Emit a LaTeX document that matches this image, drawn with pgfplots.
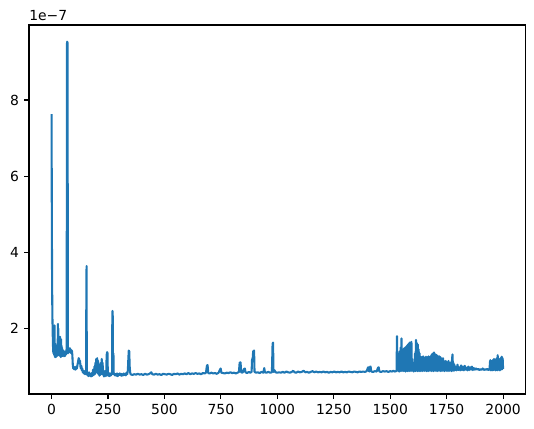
\documentclass[border=0pt]{standalone}
\usepackage{fontspec}
\setmainfont{DejaVu Sans}
\usepackage{pgfplots}
\pgfplotsset{compat=1.18}
\definecolor{mplblue}{RGB}{31,119,180}

% values in units of 1e-7
\pgfplotstableread{
x y
0 7.63
1 5.2
2 3.6
3 2.7
4 2.2
5 1.9
6 1.6
7 1.45
8 1.35
9 1.5
10 2.05
11 1.4
12 1.3
13 2.08
14 1.35
15 1.25
16 1.6
17 1.3
18 1.5
19 1.25
20 1.35
21 1.28
22 1.45
23 1.3
24 1.45
25 1.28
26 1.5
27 1.3
28 2.12
29 1.4
30 2.0
31 1.3
32 1.75
33 1.35
34 1.7
35 1.3
36 1.65
37 1.28
38 1.78
39 1.3
40 1.6
41 1.25
42 1.72
43 1.3
44 1.55
45 1.27
46 1.5
47 1.32
48 1.45
49 1.28
50 1.4
51 1.3
52 1.42
53 1.3
54 1.38
55 1.27
56 1.4
57 1.3
58 1.35
60 1.28
62 1.4
64 1.32
66 1.45
67 1.35
68 9.45
69 9.53
71 9.5
72 1.4
73 1.35
74 1.5
76 1.38
78 1.45
80 1.4
82 1.48
84 1.36
86 1.44
88 1.4
90 1.42
92 1.3
94 1.05
96 0.95
98 1.0
100 0.93
103 0.98
106 0.92
109 1.0
112 0.95
115 1.05
118 1.15
120 1.22
122 1.2
124 1.1
126 1.15
128 1.0
130 0.95
132 1.02
134 0.9
136 0.95
138 0.85
140 0.9
142 0.82
145 0.88
148 0.8
151 0.85
153 0.8
154 3.0
155 3.64
156 0.85
158 0.78
160 0.82
163 0.75
166 0.85
169 0.76
172 0.8
175 0.74
178 0.83
181 0.76
184 0.92
187 0.78
190 1.0
192 0.8
194 1.1
196 0.85
198 1.2
200 0.9
202 1.22
204 0.82
206 1.15
208 0.8
210 1.05
212 0.76
214 0.95
216 0.78
218 1.1
220 0.8
222 1.2
224 0.85
226 1.1
228 0.78
230 0.9
232 0.74
234 0.85
236 0.76
238 0.88
240 0.75
242 0.8
244 1.3
246 1.38
248 1.35
249 0.8
251 0.76
254 0.83
257 0.75
260 0.8
263 0.77
266 0.85
268 0.8
269 2.2
270 2.46
271 2.3
272 0.85
274 1.35
275 0.8
278 0.82
281 0.77
284 0.8
287 0.76
290 0.82
293 0.75
296 0.8
299 0.78
302 0.82
305 0.77
308 0.81
311 0.76
314 0.8
317 0.77
320 0.82
323 0.78
326 0.8
329 0.77
332 0.84
335 0.8
338 0.9
340 1.2
342 1.42
344 1.4
346 1.0
348 0.85
350 0.8
358 0.78
366 0.8
374 0.79
382 0.81
390 0.79
398 0.8
406 0.78
414 0.81
422 0.79
430 0.8
438 0.83
442 0.85
446 0.8
454 0.79
462 0.81
470 0.79
478 0.8
486 0.78
494 0.81
502 0.8
510 0.79
518 0.81
526 0.8
534 0.78
542 0.81
550 0.8
558 0.82
566 0.79
574 0.81
582 0.8
590 0.82
598 0.8
606 0.83
614 0.8
622 0.82
630 0.81
638 0.83
646 0.81
654 0.82
662 0.8
670 0.83
678 0.82
684 0.84
688 1.02
691 1.04
694 0.83
700 0.82
708 0.84
716 0.82
724 0.83
732 0.81
740 0.84
746 0.92
749 0.95
752 0.84
760 0.83
768 0.82
776 0.84
784 0.83
792 0.85
800 0.83
808 0.84
816 0.82
824 0.84
830 0.86
833 1.1
837 1.11
840 0.85
846 0.84
852 0.93
856 0.95
859 0.85
866 0.83
874 0.86
880 0.84
886 0.86
888 1.18
891 1.22
893 1.4
897 1.42
899 0.86
906 0.84
914 0.85
922 0.83
930 0.86
938 0.84
942 0.96
945 0.85
952 0.84
960 0.86
968 0.84
976 0.85
979 1.6
981 1.63
983 0.86
988 0.9
992 0.85
1000 0.84
1008 0.85
1016 0.84
1024 0.86
1032 0.84
1040 0.87
1048 0.85
1056 0.84
1064 0.86
1070 0.89
1076 0.85
1084 0.84
1092 0.87
1100 0.85
1108 0.86
1116 0.89
1124 0.85
1132 0.86
1140 0.84
1148 0.86
1156 0.88
1164 0.85
1172 0.87
1180 0.85
1188 0.86
1196 0.85
1204 0.87
1212 0.85
1220 0.86
1228 0.84
1236 0.86
1244 0.85
1252 0.87
1260 0.85
1268 0.86
1276 0.85
1284 0.87
1292 0.85
1300 0.86
1308 0.85
1316 0.87
1324 0.86
1332 0.85
1340 0.87
1348 0.86
1356 0.85
1364 0.87
1372 0.86
1380 0.87
1388 0.86
1396 0.88
1401 0.97
1404 0.98
1407 0.87
1410 0.99
1413 1.0
1416 0.87
1424 0.86
1432 0.88
1440 0.87
1446 0.97
1449 0.98
1452 0.87
1460 0.86
1468 0.88
1476 0.87
1484 0.88
1492 0.86
1500 0.88
1508 0.87
1514 0.89
1520 0.87
1526 0.88
1528 0.88
1530 1.80
1532 0.9
1534 1.2
1536 0.88
1538 1.05
1540 0.87
1542 1.4
1544 0.88
1546 1.5
1548 0.9
1550 1.74
1552 0.88
1554 1.45
1556 0.9
1558 1.42
1560 0.88
1562 1.48
1564 0.9
1566 1.5
1568 0.87
1570 1.52
1572 0.9
1574 1.55
1576 0.88
1578 1.58
1580 0.9
1582 1.6
1584 0.88
1586 1.63
1588 0.9
1590 1.62
1592 0.88
1594 1.65
1596 0.9
1598 1.2
1600 0.89
1602 0.95
1604 0.87
1606 1.1
1608 0.9
1610 1.35
1612 0.88
1614 1.70
1616 0.9
1618 1.62
1620 0.88
1622 1.58
1624 0.9
1626 1.45
1628 0.88
1630 1.35
1632 0.9
1634 1.26
1636 0.88
1638 1.25
1640 0.9
1642 1.24
1644 0.88
1646 1.27
1648 0.9
1650 1.24
1652 0.89
1654 1.22
1656 0.9
1658 1.26
1660 0.88
1662 1.23
1664 0.9
1666 1.25
1668 0.88
1670 1.27
1672 0.9
1674 1.24
1676 0.89
1678 1.26
1680 0.9
1682 1.3
1684 0.88
1686 1.33
1688 0.9
1690 1.35
1692 0.88
1694 1.37
1696 0.9
1698 1.3
1700 0.89
1702 1.32
1704 0.9
1706 1.3
1708 0.88
1710 1.28
1712 0.9
1714 1.26
1716 0.89
1718 1.27
1720 0.9
1722 1.25
1724 0.88
1726 1.22
1728 0.9
1730 1.2
1732 0.89
1734 1.22
1736 0.9
1738 1.15
1740 0.88
1742 1.12
1744 0.9
1746 1.15
1748 0.89
1750 1.12
1752 0.9
1754 1.1
1756 0.88
1758 1.15
1760 0.9
1762 1.1
1764 0.89
1766 1.08
1768 0.9
1770 1.12
1772 0.88
1774 1.2
1776 1.32
1778 0.9
1780 1.1
1782 0.89
1784 1.05
1786 0.9
1790 1.0
1794 0.9
1798 1.05
1802 0.91
1806 0.98
1810 0.9
1814 1.03
1818 0.91
1822 1.0
1826 0.9
1830 1.02
1834 0.92
1838 0.97
1842 0.9
1846 1.0
1850 0.91
1854 0.98
1858 0.92
1862 1.0
1866 0.91
1870 0.96
1875 0.92
1880 0.95
1885 0.92
1890 0.94
1895 0.91
1900 0.93
1905 0.92
1910 0.95
1915 0.91
1920 0.93
1925 0.92
1930 0.94
1935 0.91
1940 0.93
1942 1.12
1944 1.17
1946 0.9
1948 1.1
1950 0.91
1952 1.15
1954 0.9
1956 1.18
1958 0.91
1960 1.2
1962 0.92
1964 1.18
1966 0.9
1968 1.15
1970 0.91
1972 1.22
1974 0.9
1976 1.3
1978 0.91
1980 1.2
1982 0.92
1984 1.15
1986 0.9
1988 1.22
1990 0.92
1992 1.2
1994 1.26
1996 0.93
1998 1.22
2000 0.94
}\series

\begin{document}
\begin{tikzpicture}[x=1pt,y=1pt]
\useasboundingbox (-20.88,-24.48) rectangle (363.6,283.68);
\begin{axis}[
  at={(0,0)}, anchor=south west,
  width=357.6pt, height=265.7pt, scale only axis,
  xmin=-100, xmax=2100, ymin=0.28, ymax=9.97,
  font=\fontsize{10}{12}\selectfont,
  axis line style={line width=0.8pt},
  tick style={line width=0.8pt, black},
  tick align=outside, major tick length=3.5pt,
  xtick pos=bottom, ytick pos=left,
  xtick={0,250,500,750,1000,1250,1500,1750,2000},
  xticklabels={0,250,500,750,1000,1250,1500,1750,2000},
  ytick={2,4,6,8},
  yticklabels={2,4,6,8},
  xticklabel style={inner sep=0pt, yshift=-3.5pt},
  yticklabel style={inner sep=0pt, xshift=-3.5pt},
  scaled y ticks=false,
  clip mode=individual,
]
\addplot[mplblue, line width=1.5pt, line join=round, no markers] table[x=x,y=y] {\series};
\node[anchor=base west, inner sep=0pt] at ([yshift=3.1pt]rel axis cs:0,1) {1e−7};
\end{axis}
\end{tikzpicture}
\end{document}
